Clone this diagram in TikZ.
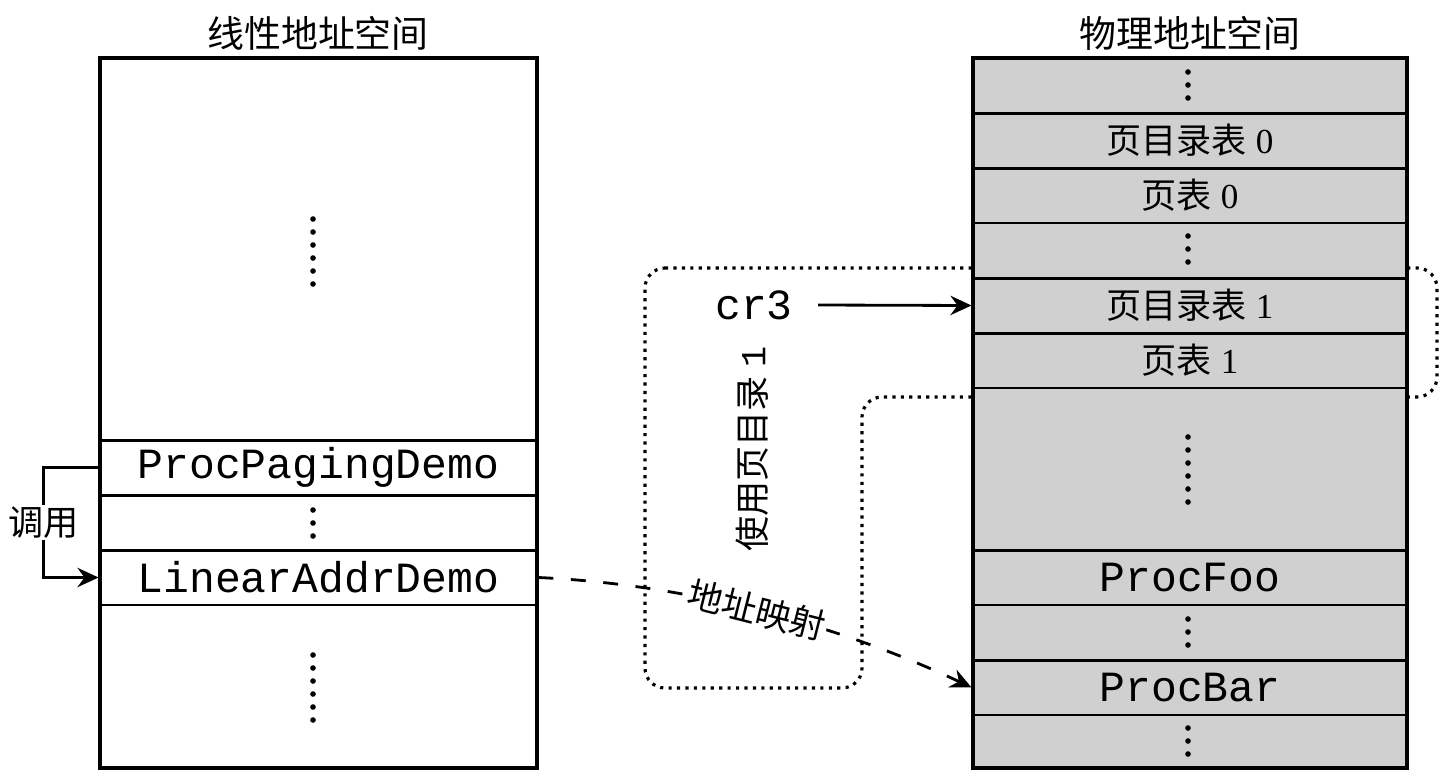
\documentclass[tikz,border=0pt]{standalone}
\usepackage{fontspec}
\setmainfont{Liberation Serif}
\setmonofont{Liberation Mono}
\newfontfamily\cjk{Noto Sans CJK SC}
\usetikzlibrary{arrows.meta}
\definecolor{memgray}{RGB}{208,208,208}
\newcommand{\zh}[1]{{\cjk #1}}
\tikzstyle{space} = [rectangle, draw, line width=1.9pt, inner sep=0pt]
\tikzstyle{lcell} = [rectangle, draw, line width=1.7pt, inner sep=0pt,
    minimum width=8.74cm, minimum height=1.1cm, font=\fontsize{24.5}{24.5}\ttfamily]
\tikzstyle{pcell} = [lcell, minimum width=8.68cm, fill=memgray]
\tikzstyle{cn} = [font=\fontsize{20}{20}\selectfont]
\tikzstyle{title} = [font=\fontsize{21}{21}\selectfont]
\tikzstyle{line} = [draw, line width=1.6pt, -{Stealth[length=12pt, width=11pt, inset=4pt]}]

\begin{document}
\begin{tikzpicture}[x=0.02cm, y=-0.02cm]
    \useasboundingbox (0,0) rectangle (1450,781);
    % area used by the page directory (behind the gray column)
    \draw [line width=1.8pt, dash pattern=on 1.8pt off 3pt, rounded corners=0.4cm]
        (645,268) -- (1437,268) -- (1437,397) -- (862,397) -- (862,688) -- (645,688) -- cycle;

    % linear address space
    \node [space, minimum width=8.74cm, minimum height=14.2cm] at (318.5,413) (linear) {};
    \node [title] at (318,33) (ltitle) {\zh{线性地址空间}};
    \node [lcell] at (318.5,467.5) (paging) {ProcPagingDemo};
    \node [lcell] at (318.5,522.5) (lgap) {};
    \node [lcell] at (318.5,577.5) (linaddr) {LinearAddrDemo};
    \foreach \y in {219,232,...,284} \fill (313,\y) circle (1.6pt);
    \foreach \y in {510,523,536} \fill (313,\y) circle (1.6pt);
    \foreach \y in {655,668,...,720} \fill (313,\y) circle (1.6pt);

    % physical address space
    \node [space, fill=memgray, minimum width=8.68cm, minimum height=14.2cm] at (1190,413) (physical) {};
    \node [title] at (1190,33) (ptitle) {\zh{物理地址空间}};
    \node [pcell, cn] at (1190,140.5) (pdir0) {\zh{页目录表} 0};
    \node [pcell, cn] at (1190,195.5) (ptab0) {\zh{页表} 0};
    \node [pcell, cn] at (1190,305.5) (pdir1) {\zh{页目录表} 1};
    \node [pcell, cn] at (1190,360.5) (ptab1) {\zh{页表} 1};
    \node [pcell] at (1190,577.5) (pfoo) {ProcFoo};
    \node [pcell] at (1190,687.5) (pbar) {ProcBar};
    \foreach \y in {72,85,98} \fill (1188,\y) circle (1.6pt);
    \foreach \y in {236,249,262} \fill (1188,\y) circle (1.6pt);
    \foreach \y in {437,450,...,502} \fill (1188,\y) circle (1.6pt);
    \foreach \y in {619,632,645} \fill (1188,\y) circle (1.6pt);
    \foreach \y in {728,741,754} \fill (1188,\y) circle (1.6pt);

    % cr3 and the directory in use
    \node [font=\fontsize{24.5}{24.5}\ttfamily, inner xsep=0.5cm] at (754,305) (cr3) {cr3};
    \node [cn, rotate=90] at (752,449) (usedir) {\zh{使用页目录} \texttt{1}};
    \path [line] (cr3.east) -- (pdir1.west);

    % call and mapping
    \path [line] (paging.west) -- ++(-55,0) |- node [cn, pos=0.25, fill=white, inner sep=1pt] (call) {\zh{调用}} (linaddr.west);
    \path [line, dash pattern=on 8.5pt off 10pt] (linaddr.east) .. controls (700,585) and (850,630) .. (pbar.west)
        node [cn, pos=0.47, sloped, fill=white, inner sep=1pt] (mapping) {\zh{地址映射}};
\end{tikzpicture}
\end{document}
